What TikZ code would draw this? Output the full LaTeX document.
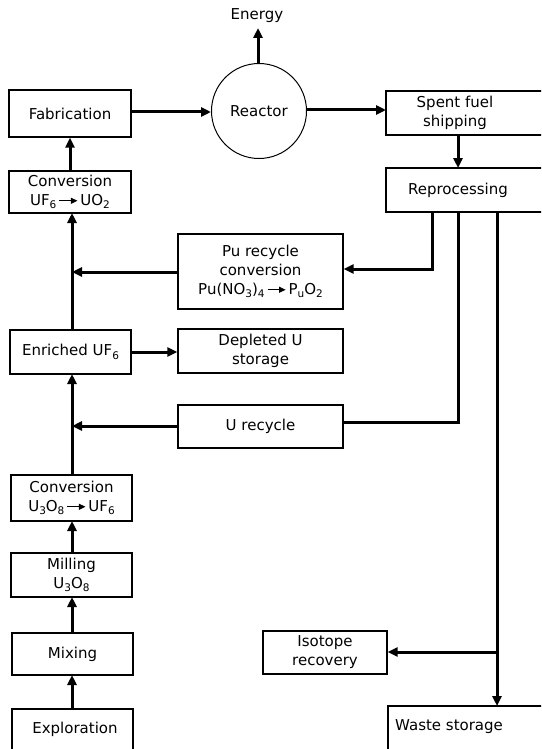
\documentclass[tikz,border=0pt]{standalone}
\usepackage{fontspec}
\setmainfont{DejaVu Sans}
\usetikzlibrary{arrows.meta}
% small lowered index for chemical formulas
\newcommand\sbs[1]{\raisebox{-0.45ex}{\fontsize{10.5}{10.5}\selectfont #1}}
% reaction arrow used inside the labels
\newcommand\rxn{\,\tikz[baseline=-0.55ex]\draw[line width=1pt,-{Triangle[length=6.5pt,width=6pt]}] (0pt,0pt)--(18pt,0pt);\,}
\begin{document}
\begin{tikzpicture}[x=1pt,y=-1pt,
  every node/.style={font=\fontsize{15}{19}\selectfont, align=center},
  box/.style={draw, line width=1.2pt, inner sep=0pt},
  plain/.style={inner sep=0pt},
  flow/.style={line width=3pt},
  tip/.style={flow, -{Triangle[length=10pt,width=9pt]}}]
\useasboundingbox (0,0) rectangle (541,749);
\clip (0,0) rectangle (541,749);

% left-hand chain
\node[box, minimum width=122, minimum height=47] (fab)   at (70,113.5) {Fabrication};
\node[box, minimum width=122, minimum height=42] (conv1) at (70,192)   {Conversion\\UF\sbs{6}\rxn UO\sbs{2}};
\node[box, minimum width=121, minimum height=44] (enr)   at (70.5,352) {Enriched UF\sbs{6}};
\node[box, minimum width=121, minimum height=46] (conv2) at (71.5,498) {Conversion\\U\sbs{3}O\sbs{8}\rxn UF\sbs{6}};
\node[box, minimum width=121, minimum height=44] (mill)  at (71.5,575) {Milling\\U\sbs{3}O\sbs{8}};
\node[box, minimum width=121, minimum height=42] (mix)   at (72.5,654) {Mixing};
\node[plain, minimum width=121, minimum height=40] (expl) at (75,729) {Exploration};
\draw[line width=1.2pt] (12,760) -- (12,709) -- (133,709) -- (133,760);

% reactor and outputs
\node[draw, circle, line width=1pt, minimum size=95, inner sep=0pt] (reac) at (259,111) {Reactor};
\node[plain] (energy) at (257,16) {Energy};

\node[plain, minimum width=138, minimum height=44] (sf) at (455,113) {Spent fuel\\shipping};
\draw[line width=1.2pt] (560,91) -- (386,91) -- (386,135) -- (560,135);
\node[plain, minimum width=144, minimum height=44] (rep) at (458,190) {Reprocessing};
\draw[line width=1.2pt] (560,168) -- (386,168) -- (386,212) -- (560,212);

% recycle and storage boxes
\node[box, minimum width=165, minimum height=75] (pu)   at (260.5,271.5) {Pu recycle\\conversion\\Pu(NO\sbs{3})\sbs{4}\rxn P\sbs{u}O\sbs{2}};
\node[box, minimum width=165, minimum height=44] (dep)  at (260.5,351)   {Depleted U\\storage};
\node[box, minimum width=165, minimum height=43] (urec) at (260.5,426.5) {U recycle};
\node[box, minimum width=124, minimum height=43] (iso)  at (325,652.5)   {Isotope\\recovery};
\node[plain, anchor=west] (waste) at (395,727) {Waste storage};
\draw[line width=1.2pt] (560,706) -- (388,706) -- (388,760);

% junction points
\coordinate (pujoin) at (72,272);
\coordinate (ujoin)  at (72,426);
\coordinate (isojoin) at (497,652);

% main flows
\draw[tip] (conv1.north) -- (fab.south);
\draw[tip] (fab.east |- 0,112) -- (reac.west |- 0,112);
\draw[tip] (reac.east |- 0,110) -- (386,110);
\draw[tip] (reac.north -| 258,0) -- (258,28);
\draw[tip] (458,135) -- (458,168);
\draw[tip] (432,212) |- (pu.east |- 0,269);
\draw[flow] (458,212) |- (urec.east |- 0,422);
\draw[tip] (497,212) -- (497,706);
\draw[tip] (isojoin) -- (iso.east |- isojoin);
\draw[tip] (pu.west |- pujoin) -- (pujoin);
\draw[tip] (urec.west |- ujoin) -- (ujoin);
\draw[tip] (72,330) -- (72,213);
\draw[tip] (enr.east |- 0,352) -- (dep.west |- 0,352);
\draw[tip] (72,475) -- (72,374);
\draw[tip] (72,553) -- (72,521);
\draw[tip] (72,633) -- (72,597);
\draw[tip] (72,709) -- (72,675);
\end{tikzpicture}
\end{document}
